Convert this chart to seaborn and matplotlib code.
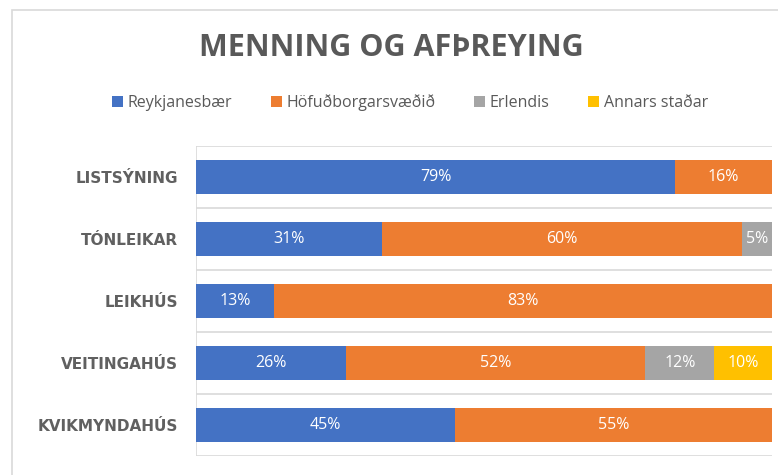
import numpy as np
import pandas as pd
import matplotlib
matplotlib.use("Agg")
import matplotlib.pyplot as plt
from matplotlib.patches import Rectangle, Patch
import seaborn as sns

categories = ["LISTSÝNING", "TÓNLEIKAR", "LEIKHÚS", "VEITINGAHÚS", "KVIKMYNDAHÚS"]
series_names = ["Reykjanesbær", "Höfuðborgarsvæðið", "Erlendis", "Annars staðar"]
reykjanesbaer = [79, 31, 13, 26, 45]
hofudborg = [16, 60, 83, 52, 55]
erlendis = [0, 5, 0, 12, 0]
annars = [0, 0, 0, 10, 0]
colors = ["#4472C4", "#ED7D31", "#A5A5A5", "#FFC000"]

sns.set_theme(style="white")
plt.rcParams["font.family"] = ["Open Sans", "DejaVu Sans"]

raw = np.array([reykjanesbaer, hofudborg, erlendis, annars], dtype=float)
totals = raw.sum(axis=0)
share = raw / totals
cum = np.cumsum(share, axis=0)

W, H = 778, 475
fig = plt.figure(figsize=(W / 100, H / 100), dpi=100)
ax = fig.add_axes([196 / W, 1 - 456 / H, (772 - 196) / W, (456 - 146) / H])

for i in range(3, -1, -1):
    df = pd.DataFrame({"cat": categories, "val": cum[i]})
    sns.barplot(data=df, x="val", y="cat", orient="h", color=colors[i],
                width=0.56, saturation=1, ax=ax, linewidth=0)

for i in range(4):
    for j, cat in enumerate(categories):
        if raw[i, j] > 0:
            start = cum[i, j] - share[i, j]
            ax.text(start + share[i, j] / 2, j, f"{int(raw[i, j])}%",
                    ha="center", va="center", color="white", fontsize=11.5)

ax.set_xlim(0, 1)
ax.set_ylim(4.5, -0.5)
ax.set_xlabel("")
ax.set_ylabel("")
ax.set_xticks([])
for s in ax.spines.values():
    s.set_visible(False)
for b in np.arange(-0.5, 5, 1):
    ax.axhline(b, color="#D9D9D9", lw=1.2, zorder=0)
ax.axvline(0, color="#D9D9D9", lw=1.2, zorder=0)
ax.tick_params(axis="y", length=0, pad=13)
for lab in ax.get_yticklabels():
    lab.set_fontweight("bold")
    lab.set_color("#606060")
    lab.set_fontsize(11)
    lab.set_family(["DejaVu Sans"])

fig.patches.append(Rectangle((12 / W, -0.1), 1.0, 1 - 10 / H + 0.1,
                             transform=fig.transFigure, fill=False,
                             edgecolor="#D9D9D9", lw=1.2))

fig.text(391 / W, 1 - 48 / H, "MENNING OG AFÞREYING", ha="center", va="center",
         fontsize=22, fontweight="bold", color="#595959")

handles = [Patch(facecolor=c, edgecolor="none") for c in colors]
fig.legend(handles, series_names, loc="center", bbox_to_anchor=(410 / W, 1 - 103 / H),
           ncol=4, frameon=False, fontsize=11.5, handlelength=0.7, handleheight=0.7,
           handletextpad=0.3, columnspacing=2.4, labelcolor="#595959")

fig.savefig("out.png", dpi=100)
